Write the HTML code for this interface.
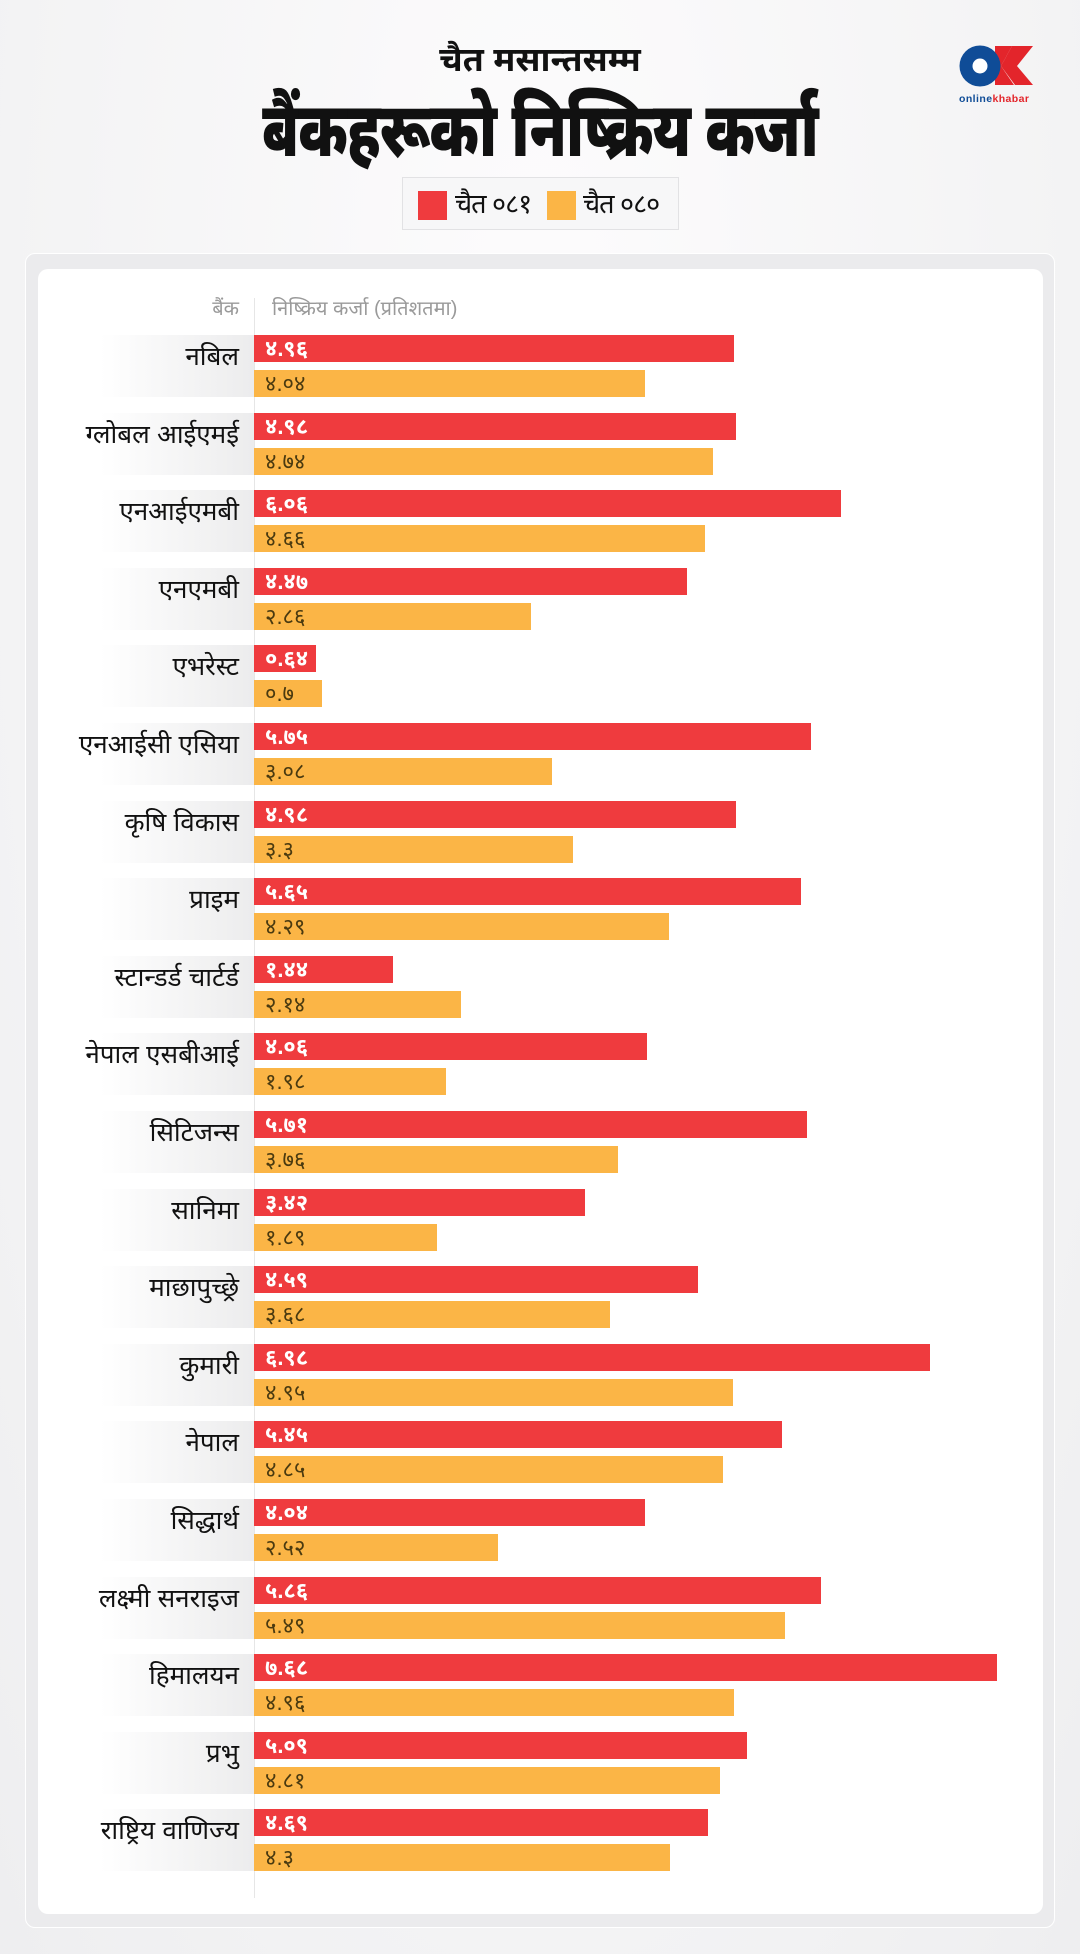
<!DOCTYPE html>
<html><head><meta charset="utf-8">
<style>
*{margin:0;padding:0;box-sizing:border-box}
body{width:1080px;height:1954px;overflow:hidden;background:radial-gradient(ellipse at 50% 20%,#fdfcfd 0%,#f3f3f4 70%,#eeeef0 100%);font-family:"Liberation Sans","Noto Sans Devanagari","Lohit Devanagari",sans-serif;position:relative;color:#111}
.abs{position:absolute}
.sub{left:0;width:1080px;top:36px;text-align:center;font-size:34px;font-weight:bold;line-height:48px}
.title{left:0;width:1080px;top:86px;text-align:center;font-size:76px;font-weight:900;line-height:90px;letter-spacing:-1px;transform:scaleX(0.75);transform-origin:540px 0}
.legend{left:402px;top:177px;width:277px;height:53px;border:1px solid #e2e2e4;background:#f7f7f8}
.sw{width:29px;height:29px;top:13px}
.lt{top:7px;font-size:27px;line-height:38px;letter-spacing:-1px}
.outer{left:25px;top:253px;width:1030px;height:1675px;border:1px solid #fff;border-radius:10px;background:#ebebed}
.card{left:38px;top:269px;width:1005px;height:1645px;background:#fff;border-radius:10px}
.hd{top:294px;font-size:20px;color:#9a9a9a;line-height:30px}
.axis{left:254px;top:298px;width:1px;height:1600px;background:#e6e6e6}
.band{left:100px;width:154px;height:62px;background:linear-gradient(to right,rgba(240,240,241,0),#ececed)}
.lab{left:20px;width:219px;text-align:right;font-size:26px;line-height:32px;color:#111;white-space:nowrap}
.r{left:254px;height:27px;background:#ef3b3e;color:#fff;font-weight:bold;font-size:22px;line-height:27px;padding-left:11px;white-space:nowrap}
.o{left:254px;height:27px;background:#fbb546;color:#4a3a10;font-size:22px;line-height:27px;padding-left:11px;white-space:nowrap}
</style></head><body>
<div class="abs sub">चैत मसान्तसम्म</div>
<div class="abs title">बैंकहरूको निष्क्रिय कर्जा</div>
<svg class="abs" style="left:955px;top:42px" width="85" height="70" viewBox="0 0 85 70">
<polygon points="38,4 57,4 46,24 60,43 78,43 62,24 78,4 58,4" fill="#e3252b"/>
<polygon points="40,4 57,4 46,24 59,43 40,43" fill="#e3252b"/>
<circle cx="25" cy="24" r="20.5" fill="#0f4c97"/>
<circle cx="25" cy="24" r="7.5" fill="#fff"/>
<text x="4" y="60" font-size="10.5" font-weight="bold" fill="#0f4c97" font-family="Liberation Sans" textLength="70">online<tspan fill="#e3252b">khabar</tspan></text>
</svg>
<div class="abs legend">
<div class="abs sw" style="left:15px;background:#ef3b3e"></div>
<div class="abs lt" style="left:52px">चैत ०८१</div>
<div class="abs sw" style="left:144px;background:#fbb546"></div>
<div class="abs lt" style="left:180px">चैत ०८०</div>
</div>
<div class="abs outer"></div>
<div class="abs card"></div>
<div class="abs hd" style="left:100px;width:139px;text-align:right">बैंक</div>
<div class="abs hd" style="left:272px">निष्क्रिय कर्जा (प्रतिशतमा)</div>
<div class="abs axis"></div>

<div class="abs band" style="top:335px"></div><div class="abs lab" style="top:340px">नबिल</div>
<div class="abs r" style="top:335px;width:480px">४.९६</div><div class="abs o" style="top:370px;width:391px">४.०४</div>

<div class="abs band" style="top:413px"></div><div class="abs lab" style="top:418px">ग्लोबल आईएमई</div>
<div class="abs r" style="top:413px;width:482px">४.९८</div><div class="abs o" style="top:448px;width:459px">४.७४</div>

<div class="abs band" style="top:490px"></div><div class="abs lab" style="top:495px">एनआईएमबी</div>
<div class="abs r" style="top:490px;width:587px">६.०६</div><div class="abs o" style="top:525px;width:451px">४.६६</div>

<div class="abs band" style="top:568px"></div><div class="abs lab" style="top:573px">एनएमबी</div>
<div class="abs r" style="top:568px;width:433px">४.४७</div><div class="abs o" style="top:603px;width:277px">२.८६</div>

<div class="abs band" style="top:645px"></div><div class="abs lab" style="top:650px">एभरेस्ट</div>
<div class="abs r" style="top:645px;width:62px">०.६४</div><div class="abs o" style="top:680px;width:68px">०.७</div>

<div class="abs band" style="top:723px"></div><div class="abs lab" style="top:728px">एनआईसी एसिया</div>
<div class="abs r" style="top:723px;width:557px">५.७५</div><div class="abs o" style="top:758px;width:298px">३.०८</div>

<div class="abs band" style="top:801px"></div><div class="abs lab" style="top:806px">कृषि विकास</div>
<div class="abs r" style="top:801px;width:482px">४.९८</div><div class="abs o" style="top:836px;width:319px">३.३</div>

<div class="abs band" style="top:878px"></div><div class="abs lab" style="top:883px">प्राइम</div>
<div class="abs r" style="top:878px;width:547px">५.६५</div><div class="abs o" style="top:913px;width:415px">४.२९</div>

<div class="abs band" style="top:956px"></div><div class="abs lab" style="top:961px">स्टान्डर्ड चार्टर्ड</div>
<div class="abs r" style="top:956px;width:139px">१.४४</div><div class="abs o" style="top:991px;width:207px">२.१४</div>

<div class="abs band" style="top:1033px"></div><div class="abs lab" style="top:1038px">नेपाल एसबीआई</div>
<div class="abs r" style="top:1033px;width:393px">४.०६</div><div class="abs o" style="top:1068px;width:192px">१.९८</div>

<div class="abs band" style="top:1111px"></div><div class="abs lab" style="top:1116px">सिटिजन्स</div>
<div class="abs r" style="top:1111px;width:553px">५.७१</div><div class="abs o" style="top:1146px;width:364px">३.७६</div>

<div class="abs band" style="top:1189px"></div><div class="abs lab" style="top:1194px">सानिमा</div>
<div class="abs r" style="top:1189px;width:331px">३.४२</div><div class="abs o" style="top:1224px;width:183px">१.८९</div>

<div class="abs band" style="top:1266px"></div><div class="abs lab" style="top:1271px">माछापुच्छ्रे</div>
<div class="abs r" style="top:1266px;width:444px">४.५९</div><div class="abs o" style="top:1301px;width:356px">३.६८</div>

<div class="abs band" style="top:1344px"></div><div class="abs lab" style="top:1349px">कुमारी</div>
<div class="abs r" style="top:1344px;width:676px">६.९८</div><div class="abs o" style="top:1379px;width:479px">४.९५</div>

<div class="abs band" style="top:1421px"></div><div class="abs lab" style="top:1426px">नेपाल</div>
<div class="abs r" style="top:1421px;width:528px">५.४५</div><div class="abs o" style="top:1456px;width:469px">४.८५</div>

<div class="abs band" style="top:1499px"></div><div class="abs lab" style="top:1504px">सिद्धार्थ</div>
<div class="abs r" style="top:1499px;width:391px">४.०४</div><div class="abs o" style="top:1534px;width:244px">२.५२</div>

<div class="abs band" style="top:1577px"></div><div class="abs lab" style="top:1582px">लक्ष्मी सनराइज</div>
<div class="abs r" style="top:1577px;width:567px">५.८६</div><div class="abs o" style="top:1612px;width:531px">५.४९</div>

<div class="abs band" style="top:1654px"></div><div class="abs lab" style="top:1659px">हिमालयन</div>
<div class="abs r" style="top:1654px;width:743px">७.६८</div><div class="abs o" style="top:1689px;width:480px">४.९६</div>

<div class="abs band" style="top:1732px"></div><div class="abs lab" style="top:1737px">प्रभु</div>
<div class="abs r" style="top:1732px;width:493px">५.०९</div><div class="abs o" style="top:1767px;width:466px">४.८१</div>

<div class="abs band" style="top:1809px"></div><div class="abs lab" style="top:1814px">राष्ट्रिय वाणिज्य</div>
<div class="abs r" style="top:1809px;width:454px">४.६९</div><div class="abs o" style="top:1844px;width:416px">४.३</div>
</body></html>
